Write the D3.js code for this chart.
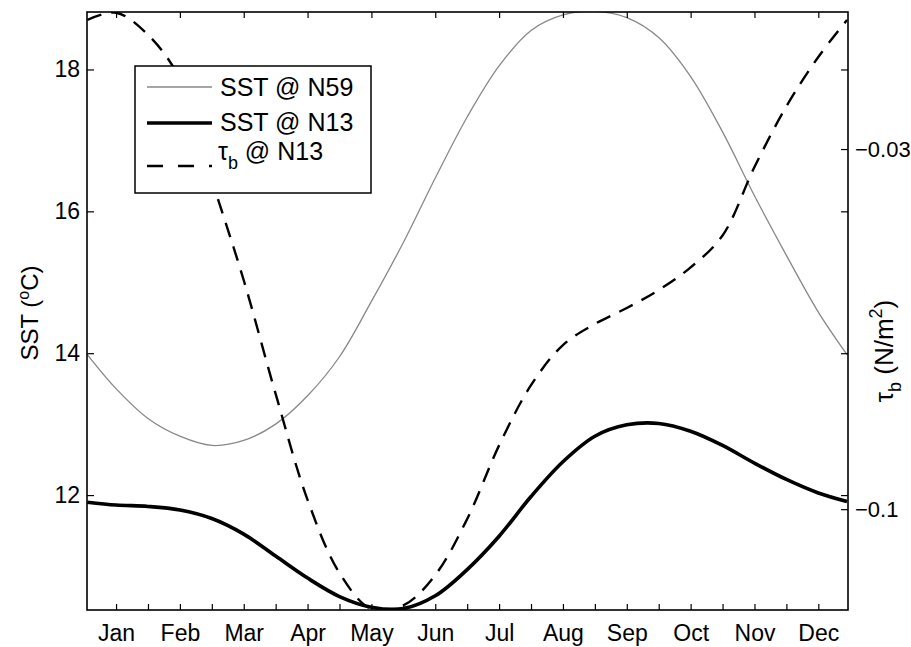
<!DOCTYPE html>
<html>
<head>
<meta charset="utf-8">
<script src="https://cdn.jsdelivr.net/npm/d3@7"></script>
<style>
  html, body { margin: 0; padding: 0; background: #fff; }
  svg { display: block; }
  text { font-family: "Liberation Sans", Arial, Helvetica, sans-serif; fill: #000; }
</style>
</head>
<body>
<svg id="chart" width="911" height="647"></svg>
<script>
// Month labels and tick positions (in months, Jan = 0)
const months = ["Jan", "Feb", "Mar", "Apr", "May", "Jun", "Jul", "Aug", "Sep", "Oct", "Nov", "Dec"];
const halfMonthTicks = d3.range(0, 11.01, 0.5);

// Sample positions along the year (months)
const samplePos = [-0.45, 0, 0.5, 1, 1.5, 2, 2.5, 3, 3.5, 4, 4.5, 5, 5.5, 6, 6.5, 7, 7.5, 8, 8.5, 9, 9.5, 10, 10.5, 11, 11.45];

// SST at N59 (°C)
const sstN59 = [13.98, 13.50, 13.08, 12.83, 12.70, 12.77, 13.00, 13.40, 13.95, 14.73, 15.56, 16.47, 17.33, 18.05, 18.55, 18.77, 18.82, 18.73, 18.45, 17.90, 17.12, 16.22, 15.38, 14.58, 13.98];

// SST at N13 (°C)
const sstN13 = [11.90, 11.86, 11.84, 11.79, 11.67, 11.45, 11.14, 10.83, 10.57, 10.42, 10.40, 10.58, 10.95, 11.42, 11.98, 12.47, 12.83, 12.99, 13.01, 12.90, 12.70, 12.45, 12.22, 12.03, 11.91];

// Bottom stress at N13 (N/m^2)
const tauN13 = [-0.0049, -0.0035, -0.0078, -0.0164, -0.0360, -0.0555, -0.0776, -0.0982, -0.1124, -0.1194, -0.1187, -0.1128, -0.1019, -0.0876, -0.0759, -0.0681, -0.0640, -0.0609, -0.0574, -0.0530, -0.0468, -0.0335, -0.0217, -0.0121, -0.0049];

// Axis ticks
const sstTicks = [12, 14, 16, 18];
const tauTicks = [-0.03, -0.1];
const tauTickLabels = ["\u22120.03", "\u22120.1"];

const svg = d3.select("#chart");
const plot = { left: 87, right: 848, top: 12, bottom: 610 };

const x = d3.scaleLinear().domain([-0.455, 11.465]).range([plot.left, plot.right]);
const ySST = d3.scaleLinear().domain([10.38, 18.81]).range([plot.bottom, plot.top]);
const yTau = d3.scaleLinear().domain([-0.1196, -0.00336]).range([plot.bottom, plot.top]);

svg.append("defs").append("clipPath").attr("id", "plotClip")
  .append("rect")
  .attr("x", plot.left).attr("y", plot.top)
  .attr("width", plot.right - plot.left).attr("height", plot.bottom - plot.top);

const lines = svg.append("g").attr("clip-path", "url(#plotClip)");

const sstLine = d3.line()
  .x((d, i) => x(samplePos[i]))
  .y(d => ySST(d))
  .curve(d3.curveCatmullRom.alpha(0.5));

const tauLine = d3.line()
  .x((d, i) => x(samplePos[i]))
  .y(d => yTau(d))
  .curve(d3.curveCatmullRom.alpha(0.5));

lines.append("path").datum(sstN59)
  .attr("d", sstLine)
  .attr("fill", "none").attr("stroke", "#888").attr("stroke-width", 1.3);

lines.append("path").datum(tauN13)
  .attr("d", tauLine)
  .attr("fill", "none").attr("stroke", "#000").attr("stroke-width", 2.4)
  .attr("stroke-dasharray", "15,10");

lines.append("path").datum(sstN13)
  .attr("d", sstLine)
  .attr("fill", "none").attr("stroke", "#000").attr("stroke-width", 3.6)
  .attr("stroke-linejoin", "round");

// Axes
const tickFont = 23;

const xAxis = d3.axisBottom(x)
  .tickValues(halfMonthTicks)
  .tickSize(-6)
  .tickPadding(15)
  .tickFormat(d => Number.isInteger(d) ? months[d] : "");
const gx = svg.append("g").attr("transform", `translate(0,${plot.bottom})`).call(xAxis);

const xAxisTop = d3.axisTop(x)
  .tickValues(d3.range(0, 12))
  .tickSize(-6)
  .tickFormat("");
const gxt = svg.append("g").attr("transform", `translate(0,${plot.top})`).call(xAxisTop);

const yAxisLeft = d3.axisLeft(ySST)
  .tickValues(sstTicks)
  .tickSize(-7)
  .tickPadding(7)
  .tickFormat(d3.format("d"));
const gyl = svg.append("g").attr("transform", `translate(${plot.left},0)`).call(yAxisLeft);

const yAxisRightMirror = d3.axisRight(ySST)
  .tickValues(sstTicks)
  .tickSize(-7)
  .tickFormat("");
const gyrm = svg.append("g").attr("transform", `translate(${plot.right},0)`).call(yAxisRightMirror);

const yAxisRight = d3.axisRight(yTau)
  .tickValues(tauTicks)
  .tickSize(-7)
  .tickPadding(7)
  .tickFormat((d, i) => tauTickLabels[i]);
const gyr = svg.append("g").attr("transform", `translate(${plot.right},0)`).call(yAxisRight);

[gx, gxt, gyl, gyrm, gyr].forEach(g => {
  g.select(".domain").remove();
  g.selectAll(".tick line").attr("stroke", "#000").attr("stroke-width", 1.2);
  g.selectAll(".tick text")
    .attr("font-family", "Liberation Sans, Arial, sans-serif")
    .attr("font-size", tickFont)
    .attr("fill", "#000");
});
gyr.selectAll(".tick text").attr("font-size", 22);

// Plot frame
svg.append("rect")
  .attr("x", plot.left).attr("y", plot.top)
  .attr("width", plot.right - plot.left).attr("height", plot.bottom - plot.top)
  .attr("fill", "none").attr("stroke", "#000").attr("stroke-width", 1.6);

// Left axis title: SST (°C)
const lt = svg.append("text")
  .attr("transform", `translate(38,${(plot.top + plot.bottom) / 2 + 2}) rotate(-90)`)
  .attr("text-anchor", "middle")
  .attr("font-size", 24);
lt.append("tspan").text("SST (");
lt.append("tspan").attr("font-size", 16).attr("dy", -9).text("o");
lt.append("tspan").attr("dy", 9).text("C)");

// Right axis title: tau_b (N/m^2)
const rt = svg.append("text")
  .attr("transform", `translate(893,351) rotate(-90)`)
  .attr("text-anchor", "middle")
  .attr("font-size", 26);
rt.append("tspan").text("\u03c4");
rt.append("tspan").attr("font-size", 18).attr("dy", 8).text("b");
rt.append("tspan").attr("dy", -8).text(" (N/m");
rt.append("tspan").attr("font-size", 18).attr("dy", -11).text("2");
rt.append("tspan").attr("dy", 11).text(")");

// Legend
const legend = svg.append("g");
legend.append("rect")
  .attr("x", 135).attr("y", 66).attr("width", 236).attr("height", 127)
  .attr("fill", "#fff").attr("stroke", "#000").attr("stroke-width", 1.5);

const legendItems = [
  { y: 87, stroke: "#888", width: 1.3, dash: null },
  { y: 123, stroke: "#000", width: 3.6, dash: null },
  { y: 166, stroke: "#000", width: 2.4, dash: "16,15" }
];
legendItems.forEach(it => {
  const l = legend.append("line")
    .attr("x1", 147).attr("x2", 212)
    .attr("y1", it.y).attr("y2", it.y)
    .attr("stroke", it.stroke).attr("stroke-width", it.width);
  if (it.dash) l.attr("stroke-dasharray", it.dash);
});

const legendFont = 25;
legend.append("text").attr("x", 220).attr("y", 96).attr("font-size", legendFont).text("SST @ N59");
legend.append("text").attr("x", 220).attr("y", 131).attr("font-size", legendFont).text("SST @ N13");
const l3 = legend.append("text").attr("x", 218).attr("y", 160).attr("font-size", legendFont);
l3.append("tspan").text("\u03c4");
l3.append("tspan").attr("font-size", 18).attr("dy", 9).text("b");
l3.append("tspan").attr("dy", -9).text(" @ N13");
</script>
</body>
</html>
